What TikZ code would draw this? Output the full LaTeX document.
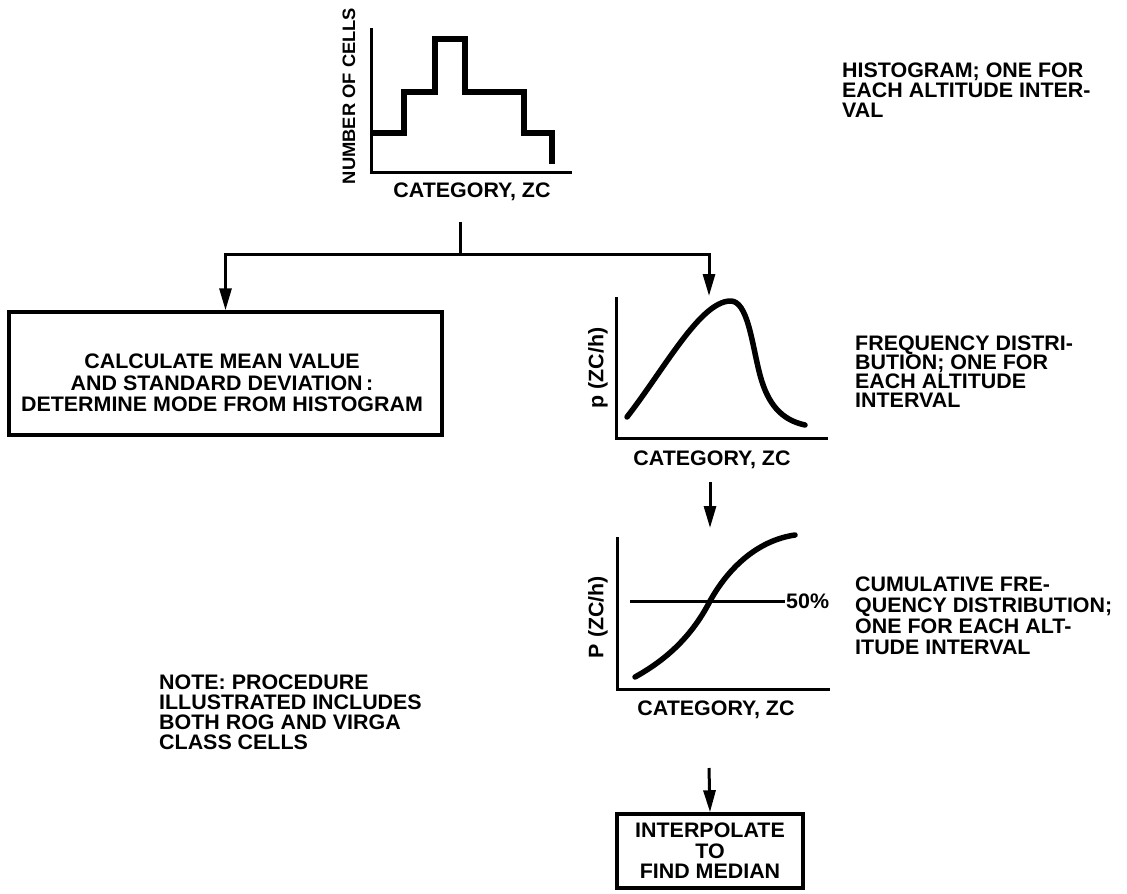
\documentclass[tikz,border=0pt]{standalone}
\usepackage{fontspec}
\setmainfont[FakeStretch=1.02]{Liberation Sans}
\usetikzlibrary{arrows.meta}
\tikzset{
  lbl/.style={inner sep=0pt, font=\fontsize{21}{20}\selectfont\bfseries},
  axis/.style={line width=3pt, line cap=butt, line join=miter},
  curve/.style={line width=5.5pt, line cap=round, line join=round},
  bar/.style={line width=5.5pt, line join=miter},
  conn/.style={line width=3pt},
  arr/.style={conn, -{Triangle[length=22pt,width=12pt]}},
  boxed/.style={draw, line width=3.5pt, inner sep=0pt},
}
\begin{document}
\begin{tikzpicture}[x=1pt,y=-1pt]
\useasboundingbox (0,0) rectangle (1127,894);

% ---------- histogram ----------
\draw[axis] (371,28) -- (371,172) -- (572,172);
\draw[bar] (371,133) -- (404,133) -- (404,92) -- (435,92) -- (435,39) -- (465,39)
  -- (465,92) -- (524,92) -- (524,133) -- (552,133) -- (552,164);
\node[lbl, font=\fontsize{18}{18}\selectfont\bfseries, rotate=90] (histy) at (349,96) {NUMBER OF CELLS};
\node[lbl] (histx) at (472,192) {CATEGORY, ZC};
\node[lbl, anchor=north west, align=left] (histnote) at (842,63)
  {HISTOGRAM; ONE FOR\\EACH ALTITUDE INTER-\\VAL};

% ---------- connectors from histogram ----------
\coordinate (hstem) at (460,222);
\coordinate (junc) at (460,254);
\coordinate (freqtop) at (709,296);
\draw[conn] (hstem) -- (junc);

% ---------- left box ----------
\node[boxed, minimum width=433pt, minimum height=123pt] (calc) at (225.5,373.5) {};
\node[lbl, align=center, font=\fontsize{21}{21.5}\selectfont\bfseries] (calctext) at (222,383)
  {CALCULATE MEAN VALUE\\AND STANDARD DEVIATION\,:\\DETERMINE MODE FROM HISTOGRAM};

\draw[arr] (junc) -| (calc.north);
\draw[arr] (junc) -| (freqtop);

% ---------- frequency distribution ----------
\draw[axis] (616,297) -- (616,438) -- (828,438);
\draw[curve] (627,417) .. controls (665,368) and (700,302) .. (730,301)
  .. controls (748,300) and (752,345) .. (760,375)
  .. controls (768,405) and (782,420) .. (805,425);
\node[lbl, rotate=90] (freqy) at (598,368) {p (ZC/h)};
\node[lbl] (freqx) at (712,460) {CATEGORY, ZC};
\node[lbl, anchor=north west, align=left, font=\fontsize{21}{19}\selectfont\bfseries] (freqnote) at (855,336)
  {FREQUENCY DISTRI-\\BUTION; ONE FOR\\EACH ALTITUDE\\INTERVAL};

% ---------- arrow to cumulative ----------
\coordinate (cumarrowtop) at (710,482);
\coordinate (cumtop) at (710,528);
\draw[arr] (cumarrowtop) -- (cumtop);

% ---------- cumulative distribution ----------
\draw[axis] (617,537) -- (617,689) -- (830,689);
\coordinate (fiftyL) at (630,601);
\coordinate (fiftyR) at (785,601);
\draw[line width=3pt] (fiftyL) -- (fiftyR);
\node[lbl, anchor=west] (fifty) at (786,601) {50\%};
\draw[curve] (635,677) .. controls (662,662) and (690,640) .. (710,601)
  .. controls (730,565) and (760,540) .. (795,535);
\node[lbl, rotate=90] (cumy) at (598,617) {P (ZC/h)};
\node[lbl] (cumx) at (716,710) {CATEGORY, ZC};
\node[lbl, anchor=north west, align=left, font=\fontsize{21}{21}\selectfont\bfseries] (cumnote) at (855,577)
  {CUMULATIVE FRE-\\QUENCY DISTRIBUTION;\\ONE FOR EACH ALT-\\ITUDE INTERVAL};

% ---------- note ----------
\node[lbl, anchor=north west, align=left] (note) at (159,675)
  {NOTE: PROCEDURE\\ILLUSTRATED INCLUDES\\BOTH ROG AND VIRGA\\CLASS CELLS};

% ---------- bottom box ----------
\node[boxed, minimum width=186pt, minimum height=74pt, align=center,
      font=\fontsize{21}{20.5}\selectfont\bfseries] (interp) at (710,851)
  {INTERPOLATE\\TO\\FIND MEDIAN};
\coordinate (interparrow) at (709,768);
\draw[arr] (interparrow) -- (interp.north);
\end{tikzpicture}
\end{document}
